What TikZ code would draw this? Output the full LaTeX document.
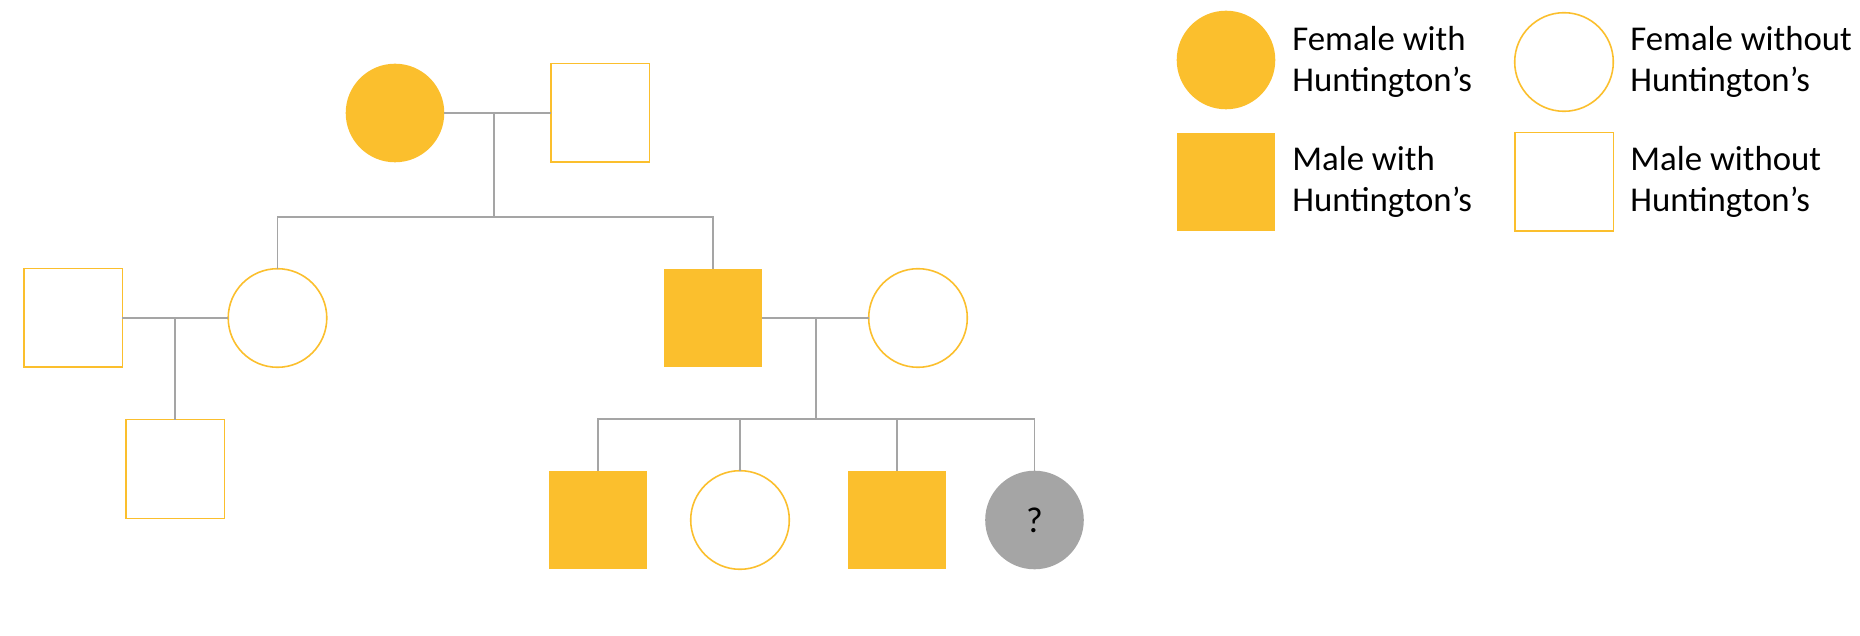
\documentclass[tikz,border=0pt]{standalone}
\usepackage{fontspec}
\setmainfont{Carlito}
\definecolor{gold}{RGB}{251,191,45}
\definecolor{lgray}{RGB}{165,165,165}
\begin{document}
\begin{tikzpicture}[x=0.5pt,y=-0.5pt,
  sym/.style={inner sep=0pt,outer sep=0pt,minimum size=49.3pt},
  fa/.style={sym,circle,fill=gold},
  fu/.style={sym,circle,draw=gold,line width=0.8pt,fill=white},
  ma/.style={sym,rectangle,fill=gold},
  mu/.style={sym,rectangle,draw=gold,line width=0.8pt,fill=white},
  unk/.style={sym,circle,fill=lgray},
  rel/.style={draw=lgray,line width=0.65pt},
  lbl/.style={anchor=west,align=left,inner sep=0pt,font=\fontsize{17.4pt}{20.5pt}\selectfont},
  ]
\useasboundingbox (0,0) rectangle (1860,636);
% generation 1
\node[fa] (gm) at (395,113) {};
\node[mu] (gf) at (600,113) {};
% generation 2
\node[mu] (hus) at (73,318) {};
\node[fu] (dau) at (277.5,318) {};
\node[ma] (son) at (713,318) {};
\node[fu] (wife) at (918,318) {};
% generation 3
\node[mu] (gc) at (175,469) {};
\node[ma] (c1) at (598,520) {};
\node[fu] (c2) at (740,520) {};
\node[ma] (c3) at (897,520) {};
\node[unk,font=\fontsize{18pt}{20.5pt}\selectfont] (c4) at (1034.5,520) {?};
% coordinates
\coordinate (m1) at (494,113);
\coordinate (s1) at (494,217);
\coordinate (m2) at (175,318);
\coordinate (m3) at (816,318);
\coordinate (s3) at (816,419);
% connectors
\draw[rel] (gm.east) -- (gf.west);
\draw[rel] (m1) -- (s1);
\draw[rel] (dau.north) |- (s1) -| (son.north);
\draw[rel] (hus.east) -- (dau.west);
\draw[rel] (m2) -- (gc.north);
\draw[rel] (son.east) -- (wife.west);
\draw[rel] (m3) -- (s3);
\draw[rel] (c1.north) |- (s3) -| (c4.north);
\draw[rel] (c2.north) -- (c2.north |- s3);
\draw[rel] (c3.north) -- (c3.north |- s3);
% legend
\node[fa] (lfa) at (1226,60) {};
\node[fu] (lfu) at (1564,62) {};
\node[ma] (lma) at (1226,182) {};
\node[mu] (lmu) at (1564,182) {};
\node[lbl] (tfa) at (1292,62) {Female with\\Huntington’s};
\node[lbl] (tfu) at (1630,62) {Female without\\Huntington’s};
\node[lbl] (tma) at (1292,182) {Male with\\Huntington’s};
\node[lbl] (tmu) at (1630,182) {Male without\\Huntington’s};
\end{tikzpicture}
\end{document}
